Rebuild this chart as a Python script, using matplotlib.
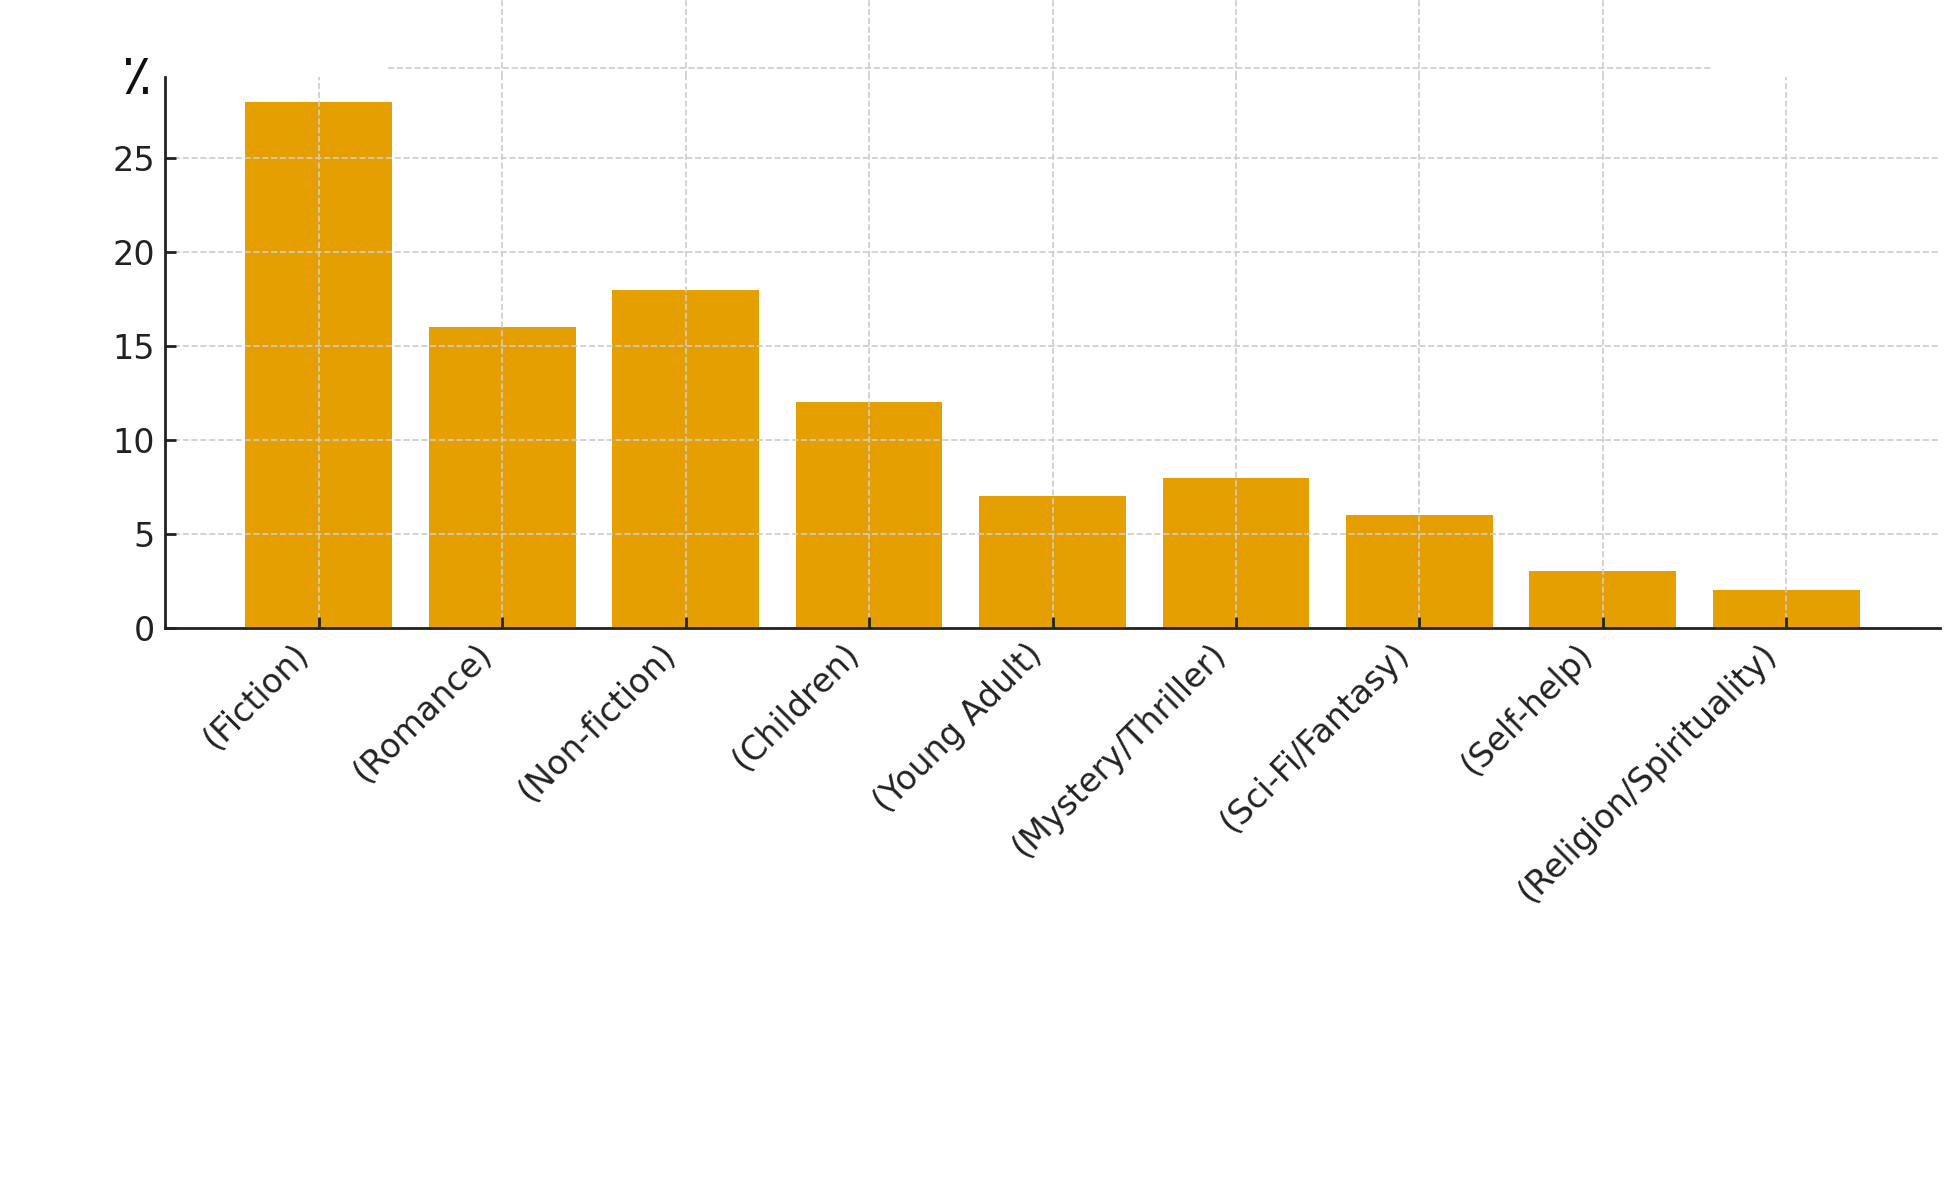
import matplotlib
matplotlib.use('Agg')
import matplotlib.pyplot as plt
import matplotlib.transforms as mtransforms
import numpy as np

# 数据
genres = ["(Fiction)", "(Romance)", "(Non-fiction)", "(Children)", "(Young Adult)",
          "(Mystery/Thriller)", "(Sci-Fi/Fantasy)", "(Self-help)", "(Religion/Spirituality)"]
shares = [28, 16, 18, 12, 7, 8, 6, 3, 2]
y_ticks = [0, 5, 10, 15, 20, 25]
y_label = "٪"

plt.rcParams['font.family'] = ['DejaVu Sans', 'Noto Sans']

fig = plt.figure(figsize=(9.8, 5.9), dpi=200)
ax = fig.add_axes([0.084, 0.468, 0.906, 0.467])

x = np.arange(len(genres))
ax.bar(x, shares, width=0.8, color='#E69F00', zorder=2)

ax.set_ylim(0, max(shares) * 1.048)
ax.set_yticks(y_ticks)
ax.set_xticks(x)
ax.set_xticklabels(genres, rotation=45, ha='right', rotation_mode='anchor', fontsize=12, color='#222222')
ax.tick_params(axis='y', labelsize=12, labelcolor='#222222')
ax.tick_params(direction='in', length=4, width=1, color='#222222')

# 标签整体左移一点
offset = mtransforms.ScaledTranslation(-27 / 200, 0, fig.dpi_scale_trans)
for lbl in ax.get_xticklabels():
    lbl.set_transform(lbl.get_transform() + offset)

ax.grid(True, linestyle='--', color='#cccccc', linewidth=0.6, zorder=3)
ax.set_axisbelow(False)

for side in ['top', 'right']:
    ax.spines[side].set_visible(False)
for side in ['left', 'bottom']:
    ax.spines[side].set_linewidth(1.0)
    ax.spines[side].set_color('#222222')
    ax.spines[side].set_zorder(5)

ax.set_ylabel(y_label, rotation=0, fontsize=20, color='#111111', va='center', ha='center')
ax.yaxis.set_label_coords(-0.016, 0.995)

# 网格线在坐标轴上方的延伸部分
ax.vlines(x[1:-1], 1.0, 1.2, transform=ax.get_xaxis_transform(), clip_on=False,
          linestyle='--', color='#cccccc', linewidth=0.6)
ax.hlines(1.015, 0.375, 7.59, transform=ax.get_xaxis_transform(), clip_on=False,
          linestyle='--', color='#cccccc', linewidth=0.6)

plt.savefig('out.png', dpi=200)
plt.close()
